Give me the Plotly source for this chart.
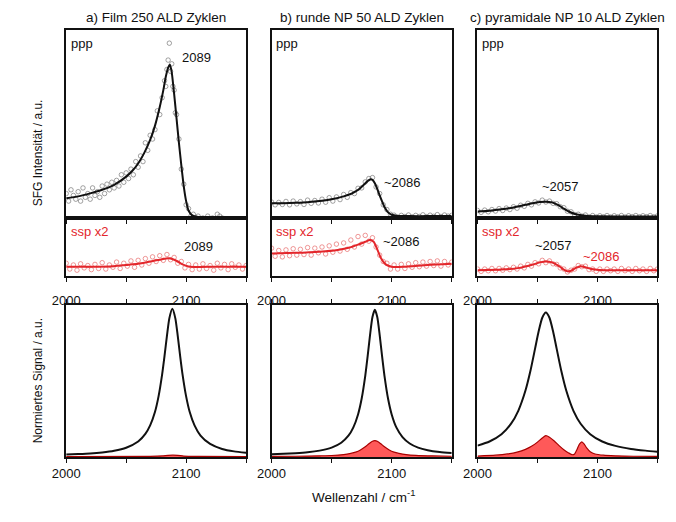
import plotly.graph_objects as go

# ---------------- data ----------------
X_MAJOR_DTICK = 100
X_MINOR_DTICK = 50

# --- a) Film 250 ALD Zyklen ---
a_ppp_fit_x = [2000, 2010, 2020, 2030, 2040, 2050, 2055, 2060, 2065, 2070, 2074, 2078, 2081, 2083, 2085, 2086.5,
               2088, 2090, 2092, 2094, 2096, 2098, 2100, 2102, 2105, 2110, 2120, 2150]
a_ppp_fit_y = [0.105, 0.115, 0.131, 0.15, 0.176, 0.22, 0.25, 0.29, 0.345, 0.415, 0.49, 0.59, 0.68, 0.75, 0.80, 0.815,
               0.775, 0.66, 0.53, 0.40, 0.28, 0.17, 0.09, 0.04, 0.014, 0.006, 0.005, 0.005]
a_ppp_pts_x = [2000, 2002, 2004, 2006, 2008, 2010, 2012, 2014, 2016, 2018,
               2020, 2022, 2024, 2026, 2028, 2030, 2032, 2034, 2036, 2038,
               2040, 2042, 2044, 2046, 2048, 2050, 2052, 2054, 2056, 2058,
               2060, 2062, 2064, 2066, 2068, 2070, 2072, 2074, 2076, 2078,
               2080, 2082,
               2083, 2084, 2085, 2086, 2087, 2088, 2089, 2090, 2091, 2092,
               2094, 2096, 2098, 2100, 2102, 2104, 2106, 2108, 2110,
               2114, 2118, 2122, 2126, 2128, 2130]
a_ppp_pts_y = [0.13, 0.09, 0.15, 0.12, 0.10, 0.14, 0.09, 0.16, 0.11, 0.13,
               0.10, 0.16, 0.12, 0.14, 0.11, 0.17, 0.13, 0.18, 0.15, 0.19,
               0.16, 0.20, 0.17, 0.23, 0.19, 0.24, 0.21, 0.26, 0.23, 0.30,
               0.27, 0.33, 0.30, 0.40, 0.36, 0.44, 0.42, 0.47, 0.57, 0.55,
               0.64, 0.73,
               0.70, 0.79, 0.84, 0.93, 0.78, 0.82, 0.70, 0.68, 0.56, 0.55,
               0.42, 0.26, 0.18, 0.07, 0.05, 0.01, 0.02, 0.0, 0.01,
               0.0, 0.01, 0.0, 0.02, 0.01, 0.0]
a_ssp_fit_x = [2000, 2020, 2040, 2050, 2060, 2068, 2075, 2080, 2085, 2089, 2093, 2097, 2102, 2110, 2125, 2150]
a_ssp_fit_y = [0.16, 0.16, 0.17, 0.19, 0.21, 0.24, 0.27, 0.29, 0.305, 0.29, 0.25, 0.20, 0.165, 0.155, 0.16, 0.16]
a_ssp_pts_x = list(range(2000, 2151, 3))
a_ssp_pts_y = [0.22, 0.12, 0.19, 0.10, 0.21, 0.14, 0.18, 0.11, 0.20, 0.13,
               0.23, 0.12, 0.19, 0.15, 0.24, 0.13, 0.22, 0.17, 0.26, 0.15,
               0.27, 0.19, 0.30, 0.22, 0.33, 0.25, 0.35, 0.27, 0.37, 0.28,
               0.32, 0.22, 0.25, 0.14, 0.20, 0.11, 0.19, 0.12, 0.21, 0.13,
               0.18, 0.10, 0.22, 0.14, 0.20, 0.11, 0.21, 0.15, 0.19, 0.12, 0.18]
a_norm_x = [2000, 2010, 2020, 2030, 2040, 2050, 2060, 2066, 2070, 2074, 2077, 2080, 2082, 2084, 2086, 2088.5,
            2091, 2093, 2095, 2097, 2100, 2103, 2107, 2112, 2120, 2130, 2140, 2150]
a_norm_y = [0.016, 0.019, 0.023, 0.030, 0.041, 0.061, 0.102, 0.152, 0.208, 0.296, 0.399, 0.544, 0.666, 0.797, 0.912, 0.975,
            0.912, 0.797, 0.666, 0.544, 0.399, 0.296, 0.208, 0.141, 0.086, 0.053, 0.037, 0.028]
a_norm_ssp_x = [2000, 2070, 2080, 2085, 2089, 2093, 2098, 2110, 2150]
a_norm_ssp_y = [0.003, 0.004, 0.007, 0.011, 0.012, 0.011, 0.006, 0.004, 0.003]

# --- b) runde NP 50 ALD Zyklen ---
b_ppp_fit_x = [2000, 2010, 2020, 2030, 2040, 2050, 2060, 2066, 2070, 2074, 2077, 2080, 2082, 2084, 2086, 2088,
               2090, 2092, 2094, 2097, 2100, 2105, 2115, 2130, 2150]
b_ppp_fit_y = [0.078, 0.079, 0.081, 0.084, 0.09, 0.10, 0.115, 0.128, 0.142, 0.16, 0.178, 0.196, 0.205, 0.203, 0.185,
               0.155, 0.12, 0.088, 0.058, 0.03, 0.017, 0.011, 0.01, 0.01, 0.01]
b_ppp_pts_x = list(range(2000, 2151, 3))
b_ppp_pts_y = [0.085, 0.070, 0.083, 0.072, 0.088, 0.070, 0.090, 0.075, 0.087, 0.072,
               0.095, 0.078, 0.093, 0.080, 0.100, 0.084, 0.108, 0.090, 0.112, 0.098,
               0.125, 0.110, 0.135, 0.130, 0.158, 0.160, 0.192, 0.210, 0.215, 0.165,
               0.130, 0.070, 0.045, 0.020, 0.015, 0.005, 0.014, 0.008, 0.016, 0.006,
               0.014, 0.008, 0.017, 0.007, 0.015, 0.009, 0.018, 0.008, 0.016, 0.010, 0.014]
b_ssp_fit_x = [2000, 2020, 2040, 2055, 2065, 2072, 2078, 2082, 2085, 2088, 2091, 2095, 2100, 2110, 2130, 2150]
b_ssp_fit_y = [0.39, 0.40, 0.42, 0.45, 0.49, 0.54, 0.59, 0.62, 0.59, 0.46, 0.31, 0.20, 0.16, 0.16, 0.19, 0.21]
b_ssp_pts_x = list(range(2000, 2151, 3))
b_ssp_pts_y = [0.48, 0.34, 0.44, 0.33, 0.45, 0.35, 0.47, 0.36, 0.46, 0.37,
               0.49, 0.36, 0.48, 0.40, 0.50, 0.38, 0.52, 0.41, 0.55, 0.43,
               0.57, 0.46, 0.62, 0.50, 0.68, 0.55, 0.70, 0.60, 0.66, 0.50,
               0.36, 0.25, 0.22, 0.12, 0.19, 0.12, 0.20, 0.13, 0.21, 0.15,
               0.23, 0.16, 0.24, 0.17, 0.25, 0.18, 0.26, 0.17, 0.25, 0.19, 0.24]
b_norm_x = [2000, 2010, 2020, 2030, 2040, 2050, 2058, 2064, 2068, 2072, 2075, 2078, 2080, 2082, 2084, 2086,
            2088, 2090, 2092, 2094, 2097, 2100, 2104, 2109, 2115, 2122, 2130, 2140, 2150]
b_norm_y = [0.018, 0.021, 0.025, 0.031, 0.042, 0.062, 0.094, 0.140, 0.193, 0.280, 0.383, 0.534, 0.663, 0.804, 0.921, 0.968,
            0.921, 0.804, 0.663, 0.534, 0.383, 0.280, 0.193, 0.131, 0.089, 0.062, 0.045, 0.033, 0.026]
b_norm_ssp_x = [2000, 2020, 2040, 2050, 2060, 2066, 2070, 2074, 2078, 2081, 2084, 2086, 2088, 2091, 2094, 2098,
                2102, 2106, 2112, 2120, 2135, 2150]
b_norm_ssp_y = [0.004, 0.005, 0.008, 0.010, 0.016, 0.024, 0.032, 0.046, 0.067, 0.087, 0.104, 0.108, 0.104, 0.087,
                0.067, 0.046, 0.032, 0.024, 0.016, 0.011, 0.007, 0.005]

# --- c) pyramidale NP 10 ALD Zyklen ---
c_ppp_fit_x = [2000, 2010, 2020, 2030, 2040, 2046, 2052, 2057, 2062, 2067, 2072, 2077, 2082, 2090, 2100, 2150]
c_ppp_fit_y = [0.035, 0.039, 0.046, 0.056, 0.07, 0.079, 0.085, 0.087, 0.083, 0.07, 0.05, 0.032, 0.02, 0.012, 0.009, 0.008]
c_ppp_pts_x = list(range(2000, 2151, 3))
c_ppp_pts_y = [0.040, 0.030, 0.042, 0.033, 0.045, 0.037, 0.050, 0.040, 0.053, 0.045,
               0.060, 0.052, 0.068, 0.062, 0.078, 0.070, 0.086, 0.080, 0.095, 0.085,
               0.090, 0.078, 0.076, 0.060, 0.055, 0.036, 0.033, 0.018, 0.020, 0.010,
               0.016, 0.006, 0.013, 0.005, 0.012, 0.006, 0.013, 0.005, 0.012, 0.006,
               0.013, 0.005, 0.012, 0.007, 0.013, 0.006, 0.012, 0.007, 0.013, 0.006, 0.011]
c_ssp_fit_x = [2000, 2020, 2035, 2045, 2052, 2057, 2062, 2068, 2072, 2075, 2078, 2082, 2086, 2090, 2095, 2105, 2150]
c_ssp_fit_y = [0.10, 0.11, 0.14, 0.19, 0.235, 0.25, 0.235, 0.17, 0.11, 0.08, 0.09, 0.14, 0.17, 0.15, 0.12, 0.10, 0.10]
c_ssp_pts_x = list(range(2000, 2151, 3))
c_ssp_pts_y = [0.12, 0.08, 0.12, 0.09, 0.13, 0.09, 0.13, 0.10, 0.14, 0.11,
               0.15, 0.12, 0.17, 0.14, 0.20, 0.17, 0.23, 0.21, 0.27, 0.23,
               0.26, 0.21, 0.20, 0.14, 0.12, 0.07, 0.10, 0.12, 0.18, 0.16,
               0.17, 0.11, 0.12, 0.08, 0.12, 0.08, 0.12, 0.09, 0.12, 0.08,
               0.13, 0.09, 0.12, 0.08, 0.13, 0.09, 0.12, 0.08, 0.13, 0.09, 0.12]
c_norm_x = [2000, 2010, 2020, 2028, 2034, 2040, 2044, 2048, 2051, 2054, 2057, 2060, 2063, 2066, 2070, 2074,
            2080, 2086, 2094, 2104, 2115, 2128, 2140, 2150]
c_norm_y = [0.075, 0.102, 0.150, 0.219, 0.304, 0.437, 0.562, 0.713, 0.827, 0.916, 0.95, 0.916, 0.827, 0.713, 0.562,
            0.437, 0.304, 0.219, 0.150, 0.102, 0.073, 0.053, 0.042, 0.035]
c_norm_ssp_x = [2000, 2015, 2025, 2033, 2040, 2045, 2050, 2054, 2057, 2060, 2064, 2068, 2072, 2076, 2079, 2081,
                2083, 2085, 2087, 2089, 2091, 2094, 2098, 2105, 2115, 2130, 2150]
c_norm_ssp_y = [0.006, 0.012, 0.02, 0.032, 0.05, 0.07, 0.098, 0.125, 0.14, 0.13, 0.105, 0.075, 0.048, 0.027, 0.015,
                0.02, 0.05, 0.085, 0.1, 0.085, 0.06, 0.035, 0.02, 0.012, 0.008, 0.005, 0.004]

TITLES = ["a) Film 250 ALD Zyklen", "b) runde NP 50 ALD Zyklen", "c) pyramidale NP 10 ALD Zyklen"]

# ---------------- styling / layout ----------------
FONT = "Liberation Sans, Arial, sans-serif"
BLACK = "#111111"
RED = "#e3262b"
W, H = 676, 522

col_px = [(53.3, 237.0), (263.0, 447.0), (473.3, 657.0)]
row_px = {"ppp": (30.0, 218.0), "ssp": (218.0, 276.0), "norm": (305.0, 457.0)}

def xd(px):
    return (px[0] / W, px[1] / W)

def yd(px):
    return (1 - px[1] / H, 1 - px[0] / H)

fig = go.Figure()
layout = {}

panels = [
    dict(ppp=(a_ppp_pts_x, a_ppp_pts_y, a_ppp_fit_x, a_ppp_fit_y),
         ssp=(a_ssp_pts_x, a_ssp_pts_y, a_ssp_fit_x, a_ssp_fit_y),
         norm=(a_norm_x, a_norm_y, a_norm_ssp_x, a_norm_ssp_y)),
    dict(ppp=(b_ppp_pts_x, b_ppp_pts_y, b_ppp_fit_x, b_ppp_fit_y),
         ssp=(b_ssp_pts_x, b_ssp_pts_y, b_ssp_fit_x, b_ssp_fit_y),
         norm=(b_norm_x, b_norm_y, b_norm_ssp_x, b_norm_ssp_y)),
    dict(ppp=(c_ppp_pts_x, c_ppp_pts_y, c_ppp_fit_x, c_ppp_fit_y),
         ssp=(c_ssp_pts_x, c_ssp_pts_y, c_ssp_fit_x, c_ssp_fit_y),
         norm=(c_norm_x, c_norm_y, c_norm_ssp_x, c_norm_ssp_y)),
]

idx = 0
axis_ids = {}
for ci in range(3):
    for row in ["ppp", "ssp", "norm"]:
        idx += 1
        sfx = "" if idx == 1 else str(idx)
        axis_ids[(ci, row)] = sfx
        xa = dict(domain=xd(col_px[ci]), range=[2000, 2150], anchor="y" + sfx,
                  showline=True, linecolor=BLACK, linewidth=1.5,
                  mirror=("ticks" if row == "norm" else True),
                  ticks="outside", ticklen=4, tickwidth=1.2, tickcolor=BLACK,
                  tick0=2000, dtick=X_MAJOR_DTICK,
                  minor=dict(ticks="outside", dtick=X_MINOR_DTICK, tick0=2000, ticklen=4, tickwidth=1.2,
                             tickcolor=BLACK, showgrid=False),
                  showgrid=False, zeroline=False,
                  showticklabels=(row != "ppp"),
                  tickfont=dict(family=FONT, size=13, color=BLACK))
        if row == "ssp":
            xa["ticklabelstandoff"] = 8
        ya = dict(domain=yd(row_px[row]), range=[0, 1], anchor="x" + sfx,
                  showline=True, linecolor=BLACK, linewidth=1.5, mirror=True,
                  showticklabels=False, ticks="", showgrid=False, zeroline=False)
        layout["xaxis" + sfx] = xa
        layout["yaxis" + sfx] = ya

        d = panels[ci][row]
        xr, yr = "x" + sfx, "y" + sfx
        if row in ("ppp", "ssp"):
            col = BLACK if row == "ppp" else RED
            mcol = "rgba(90,90,90,0.8)" if row == "ppp" else "rgba(225,60,60,0.75)"
            fig.add_trace(go.Scatter(x=d[0], y=d[1], mode="markers", xaxis=xr, yaxis=yr,
                                     marker=dict(symbol="circle-open", size=4.5, color=mcol, line=dict(width=0.7)),
                                     showlegend=False, hoverinfo="skip"))
            fig.add_trace(go.Scatter(x=d[2], y=d[3], mode="lines", xaxis=xr, yaxis=yr,
                                     line=dict(color=col, width=2, shape="spline", smoothing=0.6),
                                     showlegend=False, hoverinfo="skip"))
        else:
            fig.add_trace(go.Scatter(x=d[2], y=d[3], mode="lines", xaxis=xr, yaxis=yr, fill="tozeroy",
                                     fillcolor="rgba(255,80,80,0.95)",
                                     line=dict(color="#a80000", width=1.2, shape="spline", smoothing=0.6),
                                     showlegend=False, hoverinfo="skip"))
            fig.add_trace(go.Scatter(x=d[0], y=d[1], mode="lines", xaxis=xr, yaxis=yr,
                                     line=dict(color=BLACK, width=2, shape="spline", smoothing=0.6),
                                     showlegend=False, hoverinfo="skip"))

annotations = []
def ann(ci, row, x, y, text, color=BLACK, size=13, xanchor="center"):
    sfx = axis_ids[(ci, row)]
    annotations.append(dict(x=x, y=y, xref="x" + sfx, yref="y" + sfx, text=text, showarrow=False,
                            xanchor=xanchor, yanchor="middle",
                            font=dict(family=FONT, size=size, color=color)))

for ci in range(3):
    ann(ci, "ppp", 2002, 0.93, "ppp", xanchor="left")
    ann(ci, "ssp", 2002, 0.76, "ssp x2", color=RED, xanchor="left")
    cx = (col_px[ci][0] + col_px[ci][1]) / 2 / W
    annotations.append(dict(x=cx, y=1 - 17 / H, xref="paper", yref="paper", text=TITLES[ci], showarrow=False,
                            xanchor="center", yanchor="middle", font=dict(family=FONT, size=13.5, color=BLACK)))

ann(0, "ppp", 2109, 0.855, "2089")
ann(1, "ppp", 2109, 0.19, "~2086")
ann(2, "ppp", 2069, 0.17, "~2057")
ann(0, "ssp", 2110, 0.50, "2089")
ann(1, "ssp", 2108, 0.59, "~2086")
ann(2, "ssp", 2063, 0.53, "~2057")
ann(2, "ssp", 2103, 0.33, "~2086", color=RED)

annotations.append(dict(x=34 / W, y=1 - 153 / H, xref="paper", yref="paper", text="SFG Intensität / a.u.",
                        textangle=-90, showarrow=False, xanchor="right", yanchor="middle",
                        font=dict(family=FONT, size=12, color=BLACK)))
annotations.append(dict(x=34 / W, y=1 - 381 / H, xref="paper", yref="paper", text="Normiertes Signal / a.u.",
                        textangle=-90, showarrow=False, xanchor="right", yanchor="middle",
                        font=dict(family=FONT, size=12, color=BLACK)))
annotations.append(dict(x=357 / W, y=1 - 496 / H, xref="paper", yref="paper", text="Wellenzahl / cm<sup>-1</sup>",
                        showarrow=False, xanchor="center", yanchor="middle",
                        font=dict(family=FONT, size=13.5, color=BLACK)))

fig.update_layout(width=W, height=H, margin=dict(l=0, r=0, t=0, b=0), paper_bgcolor="white",
                  plot_bgcolor="white", showlegend=False, annotations=annotations, **layout)

fig.write_html("out.html")
